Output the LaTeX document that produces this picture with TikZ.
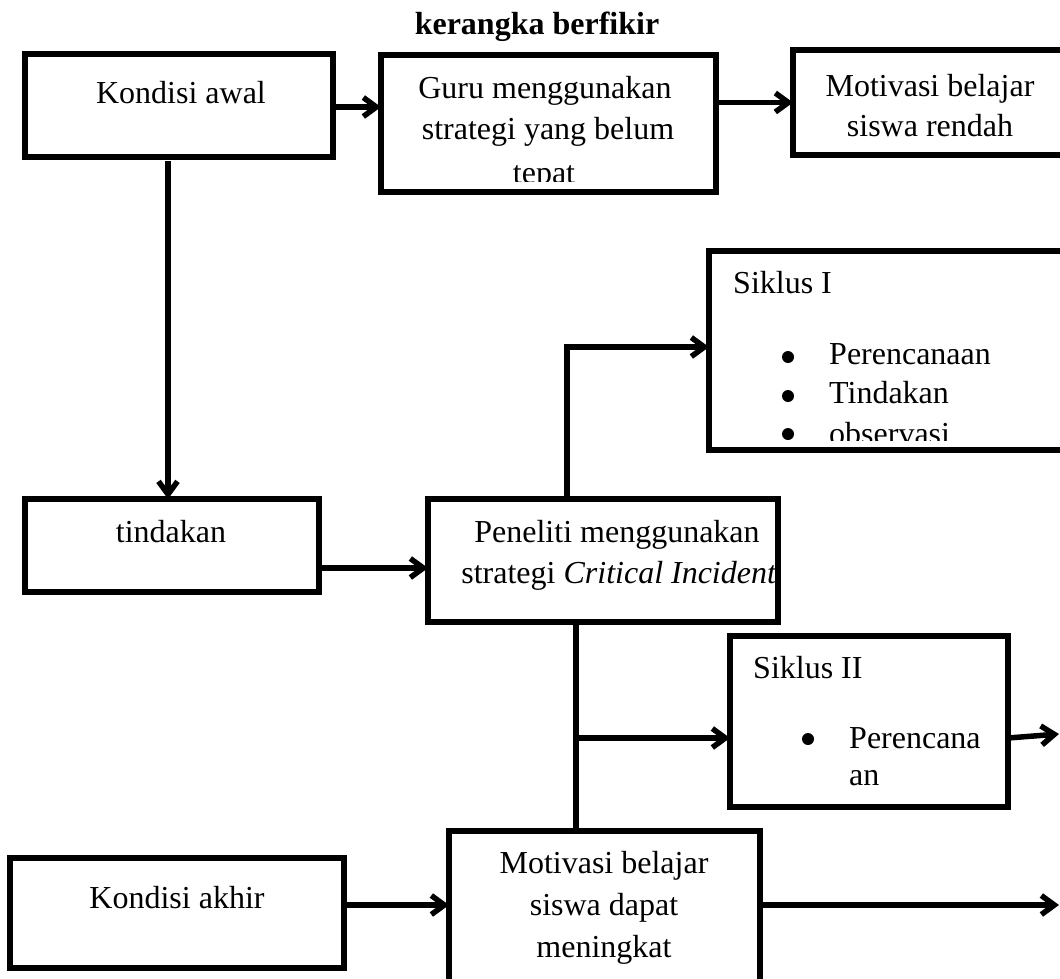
\documentclass[tikz,border=0pt]{standalone}
\usepackage{fontspec}
\setmainfont{Liberation Serif}
\usetikzlibrary{arrows.meta}
\begin{document}
\begin{tikzpicture}[x=1pt,y=-1pt,
  box/.style={draw, line width=5.5pt, outer sep=0pt, inner sep=0pt, anchor=north west},
  arr/.style={line width=5.5pt, -{Straight Barb[length=13pt,width=19pt]}},
  ln/.style={line width=5.5pt},
  txt/.style={font=\fontsize{32}{40}\selectfont, inner sep=0pt, anchor=base},
  txtl/.style={txt, anchor=base west},
  bul/.style={circle, fill, inner sep=0pt, minimum size=12pt}]
\useasboundingbox (0,0) rectangle (1060,978);
\clip (0,0) rectangle (1060,978);

% title
\node[txt, font=\fontsize{32}{40}\selectfont\bfseries] (title) at (537,34) {kerangka berfikir};

% boxes
\node[box, minimum width=308pt, minimum height=103pt] (kawal) at (25,54) {};
\node[box, minimum width=335pt, minimum height=137pt] (guru) at (381,55) {};
\node[box, minimum width=297pt, minimum height=105pt] (mrendah) at (793,50) {};
\node[box, minimum width=381pt, minimum height=199pt] (s1) at (709,251) {};
\node[box, minimum width=294pt, minimum height=93pt] (tind) at (25,499) {};
\node[box, minimum width=350pt, minimum height=123pt] (pen) at (428,499) {};
\node[box, minimum width=278pt, minimum height=171pt] (s2) at (730,636) {};
\node[box, minimum width=334pt, minimum height=110pt] (kakhir) at (10,858) {};
\node[box, minimum width=311pt, minimum height=179pt] (mdapat) at (449,831) {};

% texts
\node[txt] (t-kawal) at (181,103) {Kondisi awal};
\node[txt] (t-guru1) at (545,98) {Guru menggunakan};
\node[txt] (t-guru2) at (548,139) {strategi yang belum};
\begin{scope}
  \clip (381,55) rectangle (717,181);
  \node[txt] (t-guru3) at (544,183) {tepat};
\end{scope}
\node[txt] (t-mr1) at (930,96) {Motivasi belajar};
\node[txt] (t-mr2) at (930,136) {siswa rendah};

\node[txtl] (t-s1) at (733,293) {Siklus I};
\node[bul] (b1) at (788,357) {};
\node[txtl] (t-s1a) at (829,364) {Perencanaan};
\node[bul] (b2) at (788,396) {};
\node[txtl] (t-s1b) at (829,403) {Tindakan};
\begin{scope}
  \clip (709,251) rectangle (1060,440);
  \node[bul] (b3) at (788,434) {};
  \node[txtl] (t-s1c) at (829,444) {observasi};
\end{scope}

\node[txt] (t-tind) at (171,542) {tindakan};
\node[txt] (t-pen1) at (617,542) {Peneliti menggunakan};
\node[txt] (t-pen2) at (619,583) {strategi \textit{Critical Incident}};

\node[txtl] (t-s2) at (753,678) {Siklus II};
\node[bul] (b4) at (808,739) {};
\node[txtl] (t-s2a) at (849,748) {Perencana};
\node[txtl] (t-s2b) at (849,785) {an};

\node[txt] (t-kakhir) at (177,908) {Kondisi akhir};
\node[txt] (t-md1) at (604,873) {Motivasi belajar};
\node[txt] (t-md2) at (604,915) {siswa dapat};
\node[txt] (t-md3) at (604,957) {meningkat};

% helper coordinates
\coordinate (c0) at (0,107);
\coordinate (c1) at (168,0);
\coordinate (c2) at (0,568);
\coordinate (c3) at (567,347);
\coordinate (c4) at (576,738);
\coordinate (c5) at (1059,734);
\coordinate (c6) at (0,905);
\coordinate (c7) at (1059,905);

% connectors
\draw[arr] (kawal.east |- c0) -- (guru.west |- c0);
\draw[arr] (guru.east |- mrendah.west) -- (mrendah.west);
\draw[arr] ([yshift=-4pt]kawal.south -| c1) -- (tind.north -| c1);
\draw[arr] (tind.east |- c2) -- (pen.west |- c2);
\draw[arr] (pen.north -| c3) -- (c3) -- (s1.west |- c3);
\draw[ln] (pen.south -| c4) -- (mdapat.north -| c4);
\draw[arr] (c4) -- (s2.west |- c4);
\draw[arr] (s2.east |- c4) -- (c5);
\draw[arr] (kakhir.east |- c6) -- (mdapat.west |- c6);
\draw[arr] (mdapat.east |- c6) -- (c7);
\end{tikzpicture}
\end{document}
